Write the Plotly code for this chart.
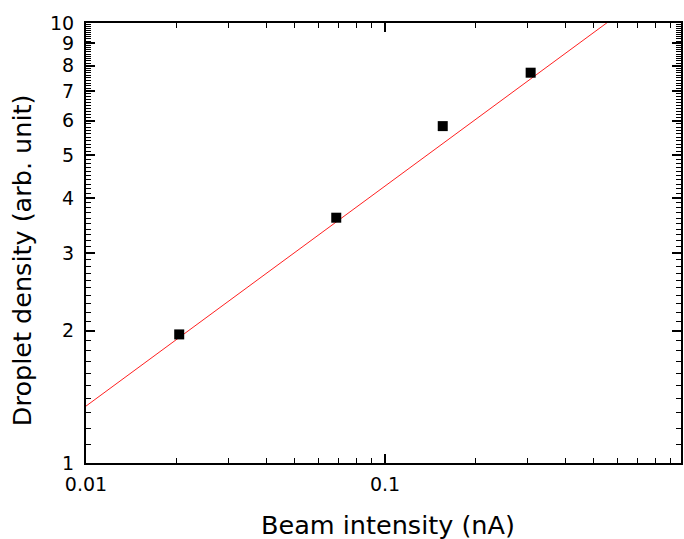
import plotly.graph_objects as go

# Data
beam_nA = [0.0205, 0.0687, 0.156, 0.307]
density = [1.96, 3.61, 5.83, 7.71]

# Fitted power-law line endpoints
fit_x = [0.01, 1.0]
fit_y = [1.347, 13.47]

y_major = [1, 2, 3, 4, 5, 6, 7, 8, 9, 10]
y_labels = [str(v) for v in y_major]
y_minor = [round(v / 10, 1) for v in range(11, 100) if v % 10 != 0]
x_major = [0.01, 0.1, 1]
x_labels = ["0.01", "0.1", "1"]
x_minor = [m * d for d in (0.01, 0.1) for m in range(2, 10)]

FONT = "DejaVu Sans"

fig = go.Figure()
fig.add_trace(go.Scatter(x=fit_x, y=fit_y, mode="lines",
                         line=dict(color="#ff2020", width=1), showlegend=False))
fig.add_trace(go.Scatter(x=beam_nA, y=density, mode="markers",
                         marker=dict(symbol="square", size=10, color="black"),
                         showlegend=False))

axis_common = dict(showgrid=False, zeroline=False, showline=True, linecolor="black",
                   linewidth=2, mirror="ticks", ticks="inside", tickcolor="black",
                   tickwidth=1.5, ticklen=9,
                   tickfont=dict(family=FONT, size=19, color="black"))

fig.update_xaxes(type="log", range=[-2, -0.01], tickmode="array",
                 tickvals=x_major, ticktext=x_labels, ticklabelstandoff=3,
                 minor=dict(tickmode="array", tickvals=x_minor, ticks="inside",
                            ticklen=5, tickwidth=1.2, tickcolor="black"),
                 **axis_common)
fig.update_yaxes(type="log", range=[0, 1], tickmode="array",
                 tickvals=y_major, ticktext=y_labels, ticklabelstandoff=6,
                 minor=dict(tickmode="array", tickvals=y_minor, ticks="inside",
                            ticklen=5, tickwidth=1, tickcolor="black"),
                 **axis_common)

fig.add_annotation(text="Beam intensity (nA)", xref="paper", yref="paper",
                   x=0.508, y=0, yshift=-45, yanchor="top", xanchor="center", showarrow=False,
                   font=dict(family=FONT, size=25.5, color="black"))
fig.add_annotation(text="Droplet density (arb. unit)", xref="paper", yref="paper",
                   x=0, xshift=-47, xanchor="right", y=0.461, yanchor="middle",
                   textangle=-90, showarrow=False,
                   font=dict(family=FONT, size=25.5, color="black"))

fig.update_layout(width=684, height=539, margin=dict(l=86, r=1, t=23, b=76),
                  paper_bgcolor="white", plot_bgcolor="white")

fig.write_html("out.html")
